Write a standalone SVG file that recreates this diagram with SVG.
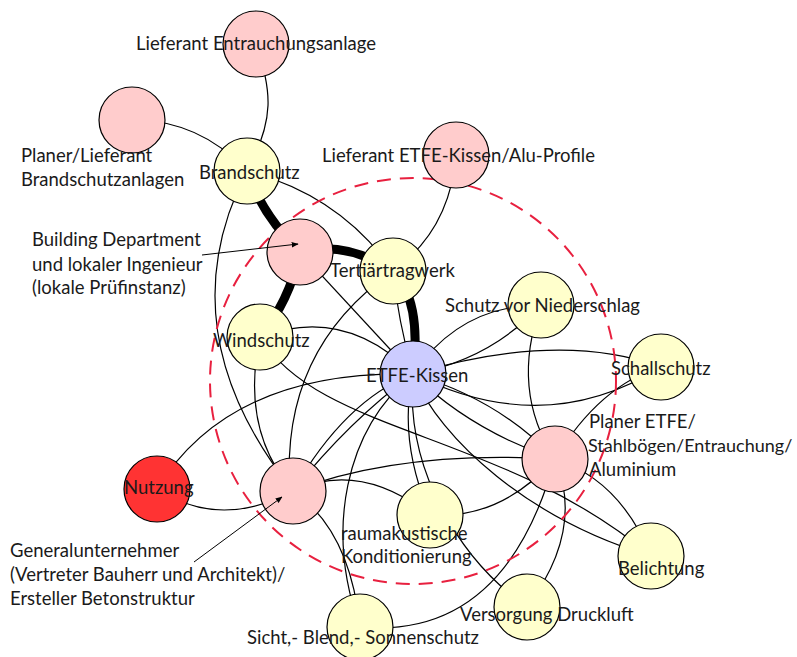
<svg xmlns="http://www.w3.org/2000/svg" width="797" height="657" viewBox="0 0 797 657">
  <style>
    .edge { fill: none; stroke: #000; stroke-width: 1.2; }
    .thick { fill: none; stroke: #000; stroke-width: 9; }
    .node { stroke: #000; stroke-width: 1.2; }
    .pink { fill: #ffcccc; }
    .yellow { fill: #ffffcc; }
    .blue { fill: #ccccff; }
    .red { fill: #ff3333; }
    .zone { fill: none; stroke: #e8203f; stroke-width: 2; stroke-dasharray: 14 9; }
    .lbl { font-family: Lato, "Open Sans", "Liberation Sans", sans-serif; font-size: 18.5px; fill: #1a1a1a; }
    .ptr { fill: none; stroke: #000; stroke-width: 1; }
  </style>
  <defs>
    <marker id="tip" viewBox="0 0 10 10" refX="9" refY="5" markerWidth="7" markerHeight="7" orient="auto">
      <path d="M0,1 L10,5 L0,9 z" fill="#000"/>
    </marker>
  </defs>
  <rect width="797" height="657" fill="#fff"/>

  <g id="connectors">
    <path class="edge" d="M256,44 C272,90 275,120 247,171"/>
    <path class="edge" d="M132,120 Q200,120 247,171"/>
    <path class="thick" d="M247,171 Q262,215 300,252"/>
    <path class="edge" d="M247,171 Q340,195 393,271"/>
    <path class="edge" d="M247,171 Q165,330 293,491"/>
    <path class="thick" d="M300,252 Q345,240 393,271"/>
    <path class="thick" d="M300,252 Q290,300 260,337"/>
    <path class="edge" d="M300,252 L413,374"/>
    <path class="edge" d="M393,271 Q450,230 456,155"/>
    <path class="thick" d="M393,271 Q422,300 413,374"/>
    <path class="edge" d="M393,271 Q398,320 413,374"/>
    <path class="edge" d="M393,271 Q280,350 290,491"/>
    <path class="edge" d="M260,337 Q345,305 413,374"/>
    <path class="edge" d="M260,337 Q240,430 293,491"/>
    <path class="edge" d="M260,337 C320,435 500,430 651,556"/>
    <path class="edge" d="M157,489 Q230,370 413,374"/>
    <path class="edge" d="M157,489 Q220,530 293,491"/>
    <path class="edge" d="M293,491 Q345,400 413,374"/>
    <path class="edge" d="M293,491 Q350,420 413,374"/>
    <path class="edge" d="M293,491 Q400,450 555,459"/>
    <path class="edge" d="M293,491 Q360,460 430,515"/>
    <path class="edge" d="M293,491 Q350,530 360,627"/>
    <path class="edge" d="M360,627 C325,530 345,430 413,374"/>
    <path class="edge" d="M413,374 Q460,305 541,305"/>
    <path class="edge" d="M413,374 Q490,360 541,305"/>
    <path class="edge" d="M413,374 Q560,330 661,367"/>
    <path class="edge" d="M413,374 Q545,440 661,367"/>
    <path class="edge" d="M541,305 Q510,390 555,459"/>
    <path class="edge" d="M661,367 Q600,385 555,459"/>
    <path class="edge" d="M413,374 Q470,430 555,459"/>
    <path class="edge" d="M413,374 Q500,400 555,459"/>
    <path class="edge" d="M413,374 C440,440 530,520 651,556"/>
    <path class="edge" d="M413,374 Q398,440 430,515"/>
    <path class="edge" d="M413,374 C405,470 460,560 527,607"/>
    <path class="edge" d="M430,515 Q500,520 555,459"/>
    <path class="edge" d="M555,459 Q505,640 360,627"/>
    <path class="edge" d="M555,459 Q585,530 527,607"/>
    <path class="edge" d="M555,459 Q620,480 651,556"/>
  </g>

  <circle class="zone" cx="413" cy="381" r="203"/>

  <g id="n-lieferant-entrauchung"><circle class="node pink" cx="256" cy="44" r="33"/></g>
  <g id="n-planer-brandschutz"><circle class="node pink" cx="132" cy="120" r="33"/></g>
  <g id="n-brandschutz"><circle class="node yellow" cx="247" cy="171" r="33"/></g>
  <g id="n-building-department"><circle class="node pink" cx="300" cy="252" r="33"/></g>
  <g id="n-tertiaertragwerk"><circle class="node yellow" cx="393" cy="271" r="33"/></g>
  <g id="n-lieferant-etfe"><circle class="node pink" cx="456" cy="155" r="33"/></g>
  <g id="n-windschutz"><circle class="node yellow" cx="260" cy="337" r="33"/></g>
  <g id="n-etfe-kissen"><circle class="node blue" cx="413" cy="374" r="33"/></g>
  <g id="n-niederschlag"><circle class="node yellow" cx="541" cy="305" r="33"/></g>
  <g id="n-schallschutz"><circle class="node yellow" cx="661" cy="367" r="33"/></g>
  <g id="n-planer-etfe"><circle class="node pink" cx="555" cy="459" r="33"/></g>
  <g id="n-nutzung"><circle class="node red" cx="157" cy="489" r="33"/></g>
  <g id="n-generalunternehmer"><circle class="node pink" cx="293" cy="491" r="33"/></g>
  <g id="n-raumakustik"><circle class="node yellow" cx="430" cy="515" r="33"/></g>
  <g id="n-belichtung"><circle class="node yellow" cx="651" cy="556" r="33"/></g>
  <g id="n-druckluft"><circle class="node yellow" cx="527" cy="607" r="33"/></g>
  <g id="n-sonnenschutz"><circle class="node yellow" cx="360" cy="627" r="33"/></g>

  <g id="pointers">
    <line class="ptr" x1="202" y1="255" x2="298" y2="244" marker-end="url(#tip)"/>
    <line class="ptr" x1="194" y1="562" x2="282" y2="497" marker-end="url(#tip)"/>
  </g>

  <g id="labels" class="lbl">
    <text x="136" y="50">Lieferant Entrauchungsanlage</text>
    <text x="21" y="162">Planer/Lieferant</text>
    <text x="21" y="186">Brandschutzanlagen</text>
    <text x="199" y="179">Brandschutz</text>
    <text x="322" y="162">Lieferant ETFE-Kissen/Alu-Profile</text>
    <text x="32" y="246">Building Department</text>
    <text x="32" y="271">und lokaler Ingenieur</text>
    <text x="32" y="294">(lokale Prüfinstanz)</text>
    <text x="330" y="277">Tertiärtragwerk</text>
    <text x="213" y="347">Windschutz</text>
    <text x="445" y="312">Schutz vor Niederschlag</text>
    <text x="366" y="382">ETFE-Kissen</text>
    <text x="611" y="375">Schallschutz</text>
    <text x="589" y="428">Planer ETFE/</text>
    <text x="588" y="452" font-size="18">Stahlbögen/Entrauchung/</text>
    <text x="589" y="476">Aluminium</text>
    <text x="124" y="494">Nutzung</text>
    <text x="10" y="557">Generalunternehmer</text>
    <text x="10" y="581">(Vertreter Bauherr und Architekt)/</text>
    <text x="10" y="605">Ersteller Betonstruktur</text>
    <text x="341" y="540">raumakustische</text>
    <text x="341" y="563">Konditionierung</text>
    <text x="618" y="575">Belichtung</text>
    <text x="460" y="621">Versorgung Druckluft</text>
    <text x="247" y="644">Sicht,- Blend,- Sonnenschutz</text>
  </g>
</svg>
